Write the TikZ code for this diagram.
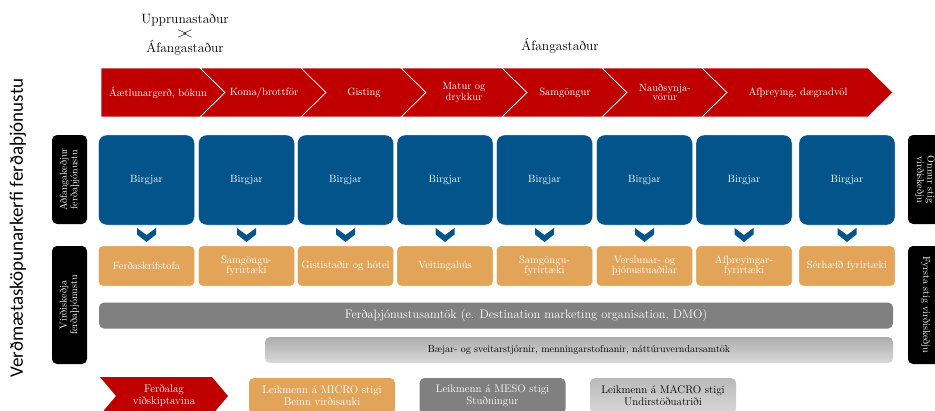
\documentclass[tikz,border=0pt]{standalone}
\usepackage{fontspec}
\newfontfamily\titlefont{Carlito}
\definecolor{chainred}{RGB}{192,0,0}
\definecolor{supplyblue}{RGB}{3,84,138}
\definecolor{firmorange}{RGB}{226,164,88}
\definecolor{dmogray}{RGB}{128,128,128}
\definecolor{lightlane}{RGB}{200,200,200}
\begin{document}
\begin{tikzpicture}[x=1pt,y=-1pt]
\tikzset{ inner sep=0pt, outer sep=0pt,
  head/.style={font=\fontsize{13.5}{14}\selectfont},
  stage/.style={text=white, align=center, font=\fontsize{10.5}{9}\selectfont},
  supplier/.style={fill=supplyblue, draw=white, rounded corners=8pt, minimum width=96, minimum height=90, text=white, font=\fontsize{10.5}{10}\selectfont},
  firm/.style={fill=firmorange, draw=white, rounded corners=4pt, minimum width=96, minimum height=40, text=white, align=center, font=\fontsize{10.5}{9.5}\selectfont},
  tag/.style={fill=black, rounded corners=5pt, minimum height=35, text=white, align=center, font=\fontsize{10}{10.5}\selectfont},
  lane/.style={rounded corners=5pt, minimum height=26},
  legend/.style={rounded corners=5pt, minimum width=146, minimum height=36, align=center, font=\fontsize{11}{12}\selectfont},
  chev/.style={fill=chainred, draw=white, line width=0.7pt},
}
\useasboundingbox (0,0) rectangle (935,410);
\clip (0,0) rectangle (935,410);

% title
\node [rotate=90, font=\titlefont\fontsize{19}{22}\selectfont] (T) at (18,228) {Verðmætasköpunarkerfi ferðaþjónustu};

\node [head] (UP)  at (185,20) {Upprunastaður};
\node [head] (X)   at (185,34) {$>\mkern-7mu<$};
\node [head] (AF1) at (185,48) {Áfangastaður};
\node [head] (AF2) at (560,46) {Áfangastaður};

% chevron bar
\fill [chev] (101,68) -- (200,68) -- (225,92.5) -- (200,117) -- (101,117) -- cycle;
\fill [chev] (200,68) -- (301,68) -- (326,92.5) -- (301,117) -- (200,117) -- (225,92.5) -- cycle;
\fill [chev] (301,68) -- (401,68) -- (426,92.5) -- (401,117) -- (301,117) -- (326,92.5) -- cycle;
\fill [chev] (401,68) -- (502,68) -- (527,92.5) -- (502,117) -- (401,117) -- (426,92.5) -- cycle;
\fill [chev] (502,68) -- (602,68) -- (627,92.5) -- (602,117) -- (502,117) -- (527,92.5) -- cycle;
\fill [chev] (602,68) -- (702,68) -- (727,92.5) -- (702,117) -- (602,117) -- (627,92.5) -- cycle;
\fill [chev] (702,68) -- (868,68) -- (893,92.5) -- (868,117) -- (702,117) -- (727,92.5) -- cycle;

\node [stage] (S1) at (158,92.5) {Áætlunargerð, bókun};
\node [stage] (S2) at (264,92.5) {Koma/brottför};
\node [stage] (S3) at (364,92.5) {Gisting};
\node [stage] (S4) at (464,92.5) {Matur og\\drykkur};
\node [stage] (S5) at (565,92.5) {Samgöngur};
\node [stage] (S6) at (665,92.5) {Nauðsynja-\\vörur};
\node [stage] (S7) at (798,92.5) {Afþreying, dægradvöl};

% side tags
\node [tag, rotate=90,  minimum width=89]  (L1) at (69.5,179.5) {Aðfangakeðjur\\ferðaþjónustu};
\node [tag, rotate=90,  minimum width=118] (L2) at (69.5,305)   {Virðiskeðja\\ferðaþjónustu};
\node [tag, rotate=-90, minimum width=89]  (R1) at (925.5,179.5) {Önnur stig\\virðiskeðju};
\node [tag, rotate=-90, minimum width=118] (R2) at (925.5,305)   {Fyrsta stig virðiskeðju};

% suppliers
\node [supplier] (B1) at (146.5,180) {Birgjar};
\node [supplier] (B2) at (246.5,180) {Birgjar};
\node [supplier] (B3) at (345.5,180) {Birgjar};
\node [supplier] (B4) at (445,180)   {Birgjar};
\node [supplier] (B5) at (544.5,180) {Birgjar};
\node [supplier] (B6) at (644.5,180) {Birgjar};
\node [supplier] (B7) at (744,180)   {Birgjar};
\node [supplier] (B8) at (847,180)   {Birgjar};

\fill [supplyblue] (B1.south) ++(-9.5,3) -- ++(9.5,7) -- ++(9.5,-7) -- ++(0,6.5) -- ++(-9.5,7.5) -- ++(-9.5,-7.5) -- cycle;
\fill [supplyblue] (B2.south) ++(-9.5,3) -- ++(9.5,7) -- ++(9.5,-7) -- ++(0,6.5) -- ++(-9.5,7.5) -- ++(-9.5,-7.5) -- cycle;
\fill [supplyblue] (B3.south) ++(-9.5,3) -- ++(9.5,7) -- ++(9.5,-7) -- ++(0,6.5) -- ++(-9.5,7.5) -- ++(-9.5,-7.5) -- cycle;
\fill [supplyblue] (B4.south) ++(-9.5,3) -- ++(9.5,7) -- ++(9.5,-7) -- ++(0,6.5) -- ++(-9.5,7.5) -- ++(-9.5,-7.5) -- cycle;
\fill [supplyblue] (B5.south) ++(-9.5,3) -- ++(9.5,7) -- ++(9.5,-7) -- ++(0,6.5) -- ++(-9.5,7.5) -- ++(-9.5,-7.5) -- cycle;
\fill [supplyblue] (B6.south) ++(-9.5,3) -- ++(9.5,7) -- ++(9.5,-7) -- ++(0,6.5) -- ++(-9.5,7.5) -- ++(-9.5,-7.5) -- cycle;
\fill [supplyblue] (B7.south) ++(-9.5,3) -- ++(9.5,7) -- ++(9.5,-7) -- ++(0,6.5) -- ++(-9.5,7.5) -- ++(-9.5,-7.5) -- cycle;
\fill [supplyblue] (B8.south) ++(-9.5,3) -- ++(9.5,7) -- ++(9.5,-7) -- ++(0,6.5) -- ++(-9.5,7.5) -- ++(-9.5,-7.5) -- cycle;

% first-tier firms
\node [firm] (O1) at (146.5,266) {Ferðaskrifstofa};
\node [firm] (O2) at (246.5,266) {Samgöngu-\\fyrirtæki};
\node [firm] (O3) at (345.5,266) {Gististaðir og hótel};
\node [firm] (O4) at (445,266)   {Veitingahús};
\node [firm] (O5) at (544.5,266) {Samgöngu-\\fyrirtæki};
\node [firm] (O6) at (644.5,266) {Verslunar- og\\þjónustuaðilar};
\node [firm] (O7) at (744,266)   {Afþreyingar-\\fyrirtæki};
\node [firm] (O8) at (847,266)   {Sérhæfð fyrirtæki};

% support lanes
\node [lane, fill=dmogray, text=white, minimum width=794, font=\fontsize{12.3}{13}\selectfont] (DMO) at (496,315.5) {\hspace*{60pt}Ferðaþjónustusamtök (e. Destination marketing organisation, DMO)};
\node [lane, top color=gray!65, bottom color=gray!30, minimum width=628, font=\fontsize{10}{11}\selectfont] (MUN) at (579,350) {Bæjar- og sveitarstjórnir, menningarstofnanir, náttúruverndarsamtök};

% legend
\fill [chainred] (100,377) -- (212,377) -- (228,396) -- (212,415) -- (100,415) -- (116,396) -- cycle;
\node [stage, font=\fontsize{11}{12}\selectfont] (J) at (164,396) {Ferðalag\\viðskiptavina};
\node [legend, fill=firmorange, text=white] (MICRO) at (322,396) {Leikmenn á MICRO stigi\\Beinn virðisauki};
\node [legend, fill=dmogray, text=white]    (MESO)  at (492.5,396) {Leikmenn á MESO stigi\\Stuðningur};
\node [legend, top color=gray!55, bottom color=gray!30] (MACRO) at (663,396) {Leikmenn á MACRO stigi\\Undirstöðuatriði};

\end{tikzpicture}
\end{document}
